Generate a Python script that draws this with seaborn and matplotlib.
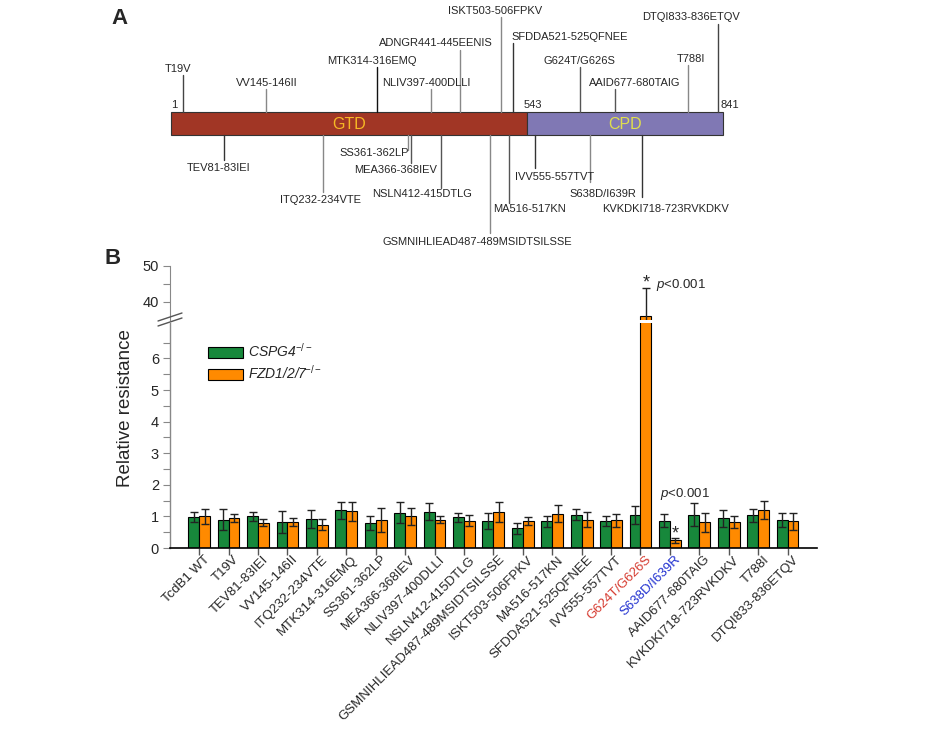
import numpy as np
import pandas as pd
import matplotlib
matplotlib.use("Agg")
import matplotlib.pyplot as plt
from matplotlib.patches import Rectangle
from matplotlib.lines import Line2D
from matplotlib.container import BarContainer
from matplotlib.transforms import ScaledTranslation
import seaborn as sns

# ---------------- data ----------------
# Panel A: domain map
domain_names = ["GTD", "CPD"]
domain_start = [1, 543]
domain_end = [543, 841]
top_labels = ["T19V", "VV145-146II", "MTK314-316EMQ", "NLIV397-400DLLI",
              "ADNGR441-445EENIS", "ISKT503-506FPKV", "SFDDA521-525QFNEE",
              "G624T/G626S", "AAID677-680TAIG", "T788I", "DTQI833-836ETQV"]
top_pos = [19, 145, 314, 397, 441, 503, 521, 624, 677, 788, 833]
bottom_labels = ["TEV81-83IEI", "ITQ232-234VTE", "SS361-362LP", "MEA366-368IEV",
                 "NSLN412-415DTLG", "GSMNIHLIEAD487-489MSIDTSILSSE", "MA516-517KN",
                 "IVV555-557TVT", "S638D/I639R", "KVKDKI718-723RVKDKV"]
bottom_pos = [81, 232, 361, 366, 412, 487, 516, 555, 638, 718]

# Panel B: relative resistance
mutants = ["TcdB1 WT", "T19V", "TEV81-83IEI", "VV145-146II", "ITQ232-234VTE",
           "MTK314-316EMQ", "SS361-362LP", "MEA366-368IEV", "NLIV397-400DLLI",
           "NSLN412-415DTLG", "GSMNIHLIEAD487-489MSIDTSILSSE", "ISKT503-506FPKV",
           "MA516-517KN", "SFDDA521-525QFNEE", "IVV555-557TVT", "G624T/G626S",
           "S638D/I639R", "AAID677-680TAIG", "KVKDKI718-723RVKDKV", "T788I",
           "DTQI833-836ETQV"]
cspg4_mean = [0.99, 0.90, 1.00, 0.82, 0.91, 1.19, 0.79, 1.12, 1.15, 0.97, 0.85,
              0.62, 0.84, 1.05, 0.85, 1.04, 0.87, 1.06, 0.94, 1.03, 0.90]
cspg4_err = [0.16, 0.32, 0.13, 0.36, 0.29, 0.28, 0.21, 0.33, 0.26, 0.15, 0.26,
             0.18, 0.17, 0.17, 0.16, 0.28, 0.21, 0.37, 0.27, 0.20, 0.22]
fzd_mean = [1.00, 0.96, 0.80, 0.82, 0.74, 1.16, 0.89, 1.00, 0.90, 0.86, 1.13,
            0.86, 1.09, 0.89, 0.88, 36.0, 0.24, 0.81, 0.81, 1.20, 0.85]
fzd_err = [0.24, 0.13, 0.11, 0.12, 0.17, 0.29, 0.37, 0.27, 0.12, 0.17, 0.31,
           0.13, 0.26, 0.24, 0.20, 8.0, 0.08, 0.29, 0.19, 0.28, 0.27]
series_names = ["CSPG4", "FZD1/2/7"]

# ---------------- style ----------------
sns.set_style("white")
plt.rcParams["font.family"] = ["Liberation Sans", "DejaVu Sans"]
plt.rcParams["mathtext.fontset"] = "custom"
plt.rcParams["mathtext.rm"] = "Liberation Sans"
plt.rcParams["mathtext.it"] = "Liberation Sans:italic"

GREEN = "#17883b"
ORANGE = "#ff8a00"
W, H = 948, 729
fig = plt.figure(figsize=(W / 100, H / 100), dpi=100)

# ---------------- Panel A ----------------
topH = 255
axA = fig.add_axes([0, 1 - topH / H, 1, topH / H])
px0, r0, scale = 171, 1, 840 / 552
axA.set_xlim(r0 - px0 * scale, r0 + (W - px0) * scale)
axA.set_ylim(topH, 0)
axA.axis("off")

bar_top, bar_bot = 112, 135
dom_colors = ["#a13625", "#8078b4"]
dom_text_colors = ["#f7b824", "#e0df4c"]
for name, s, e, c, tc in zip(domain_names, domain_start, domain_end, dom_colors, dom_text_colors):
    axA.add_patch(Rectangle((s, bar_top), e - s, bar_bot - bar_top, facecolor=c,
                            edgecolor="#333333", linewidth=0.8))
    axA.text((s + e) / 2, (bar_top + bar_bot) / 2 + 1, name, color=tc, fontsize=11.5,
             ha="center", va="center")

fs_a = 8
axA.text(1, bar_top - 2, "1", fontsize=fs_a, ha="left", va="bottom")
axA.text(543 - 5, bar_top - 2, "543", fontsize=fs_a, ha="left", va="bottom")
axA.text(841 - 4, bar_top - 2, "841", fontsize=fs_a, ha="left", va="bottom")

top_stem_y = [75, 89, 67, 89, 50, 17, 43, 67, 89, 65, 24]
top_text_r = [12, 146, 307, 389, 404, 494, 608, 623, 706, 792, 792]
top_col = ["#444", "#888", "#111", "#888", "#888", "#888", "#333", "#555", "#555", "#888", "#444"]
for lab, r, sy, tr, col in zip(top_labels, top_pos, top_stem_y, top_text_r, top_col):
    axA.plot([r, r], [bar_top, sy], color=col, lw=1)
    axA.text(tr, sy - 1.5, lab, fontsize=fs_a, ha="center", va="bottom")

bot_stem_y = [160, 192, 150, 163, 188, 233, 203, 168, 182, 197]
bot_text_y = [163, 195, 148, 165, 189, 237, 204, 172, 189, 204]
bot_text_r = [73, 228, 310, 342, 383, 467, 546, 584, 659, 754]
bot_col = ["#333", "#888", "#888", "#555", "#555", "#888", "#555", "#333", "#888", "#333"]
for lab, r, sy, ty, tr, col in zip(bottom_labels, bottom_pos, bot_stem_y, bot_text_y, bot_text_r, bot_col):
    axA.plot([r, r], [bar_bot, sy], color=col, lw=1)
    axA.text(tr, ty, lab, fontsize=fs_a, ha="center", va="top")

fig.text(111 / W, 1 - 18 / H, "A", fontsize=16, fontweight="bold", ha="left", va="center")
fig.text(104 / W, 1 - 259 / H, "B", fontsize=16, fontweight="bold", ha="left", va="center")

# ---------------- Panel B ----------------
df = pd.DataFrame({
    "mutant": mutants * 2,
    "line": [series_names[0]] * len(mutants) + [series_names[1]] * len(mutants),
    "value": cspg4_mean + fzd_mean,
})

ax_left, ax_right = 170, 817
lo_bot, lo_top = 548, 323
up_bot, up_top = 320, 266
ax_lo = fig.add_axes([ax_left / W, 1 - lo_bot / H, (ax_right - ax_left) / W, (lo_bot - lo_top) / H])
ax_up = fig.add_axes([ax_left / W, 1 - up_bot / H, (ax_right - ax_left) / W, (up_bot - up_top) / H])

errs = [cspg4_err, fzd_err]
means = [cspg4_mean, fzd_mean]
bar_conts = {}
for ax, show_leg in [(ax_lo, True), (ax_up, False)]:
    sns.barplot(data=df, x="mutant", y="value", hue="line", order=mutants,
                hue_order=series_names, palette=[GREEN, ORANGE], width=0.74,
                edgecolor="black", linewidth=0.8, errorbar=None, ax=ax,
                legend=show_leg, saturation=1)
    conts = [c for c in ax.containers if isinstance(c, BarContainer)]
    bar_conts[ax] = conts
    for k, cont in enumerate(conts):
        xs = [b.get_x() + b.get_width() / 2 for b in cont]
        ax.errorbar(xs, means[k], yerr=errs[k], fmt="none", ecolor="#222222",
                    elinewidth=1, capsize=2.6, capthick=1, zorder=5)
    ax.set_xlim(-0.99, 21.0)
    ax.set_xlabel("")
    ax.set_ylabel("")

# lower axis
ax_lo.set_ylim(0, (lo_bot - lo_top) / 31.6)
ax_lo.set_yticks(range(0, 7))
ax_lo.set_yticks(np.arange(0.5, 7, 1.0), minor=True)
ax_lo.tick_params(axis="y", which="both", direction="out", length=5, width=0.8,
                  color="#888888", labelsize=10.5, left=True, pad=3)
ax_lo.tick_params(axis="x", direction="out", length=5, width=1, color="#555555",
                  bottom=True, pad=2)
for s in ["top", "right"]:
    ax_lo.spines[s].set_visible(False)
ax_lo.spines["left"].set_color("#888888")
ax_lo.spines["bottom"].set_color("black")
ax_lo.spines["left"].set_linewidth(1)
ax_lo.spines["bottom"].set_linewidth(1.2)

ax_lo.set_xticks(range(len(mutants)))
ax_lo.set_xticklabels(mutants, rotation=45, ha="right", va="center",
                      rotation_mode="anchor", fontsize=9.5)
offset = ScaledTranslation(6.5 / 72, 0, fig.dpi_scale_trans)
for lab in ax_lo.get_xticklabels():
    lab.set_transform(lab.get_transform() + offset)
    if lab.get_text() == "G624T/G626S":
        lab.set_color("#d63a2f")
    elif lab.get_text() == "S638D/I639R":
        lab.set_color("#1f2fd0")

# upper axis
ax_up.set_ylim(35, 50)
ax_up.set_yticks([40, 50])
ax_up.set_yticks([45], minor=True)
ax_up.tick_params(axis="y", which="both", direction="out", length=5, width=0.8,
                  color="#888888", labelsize=10.5, left=True, pad=3)
ax_up.set_xticks([])
for s in ["top", "right", "bottom"]:
    ax_up.spines[s].set_visible(False)
ax_up.spines["left"].set_color("#888888")
ax_up.patch.set_alpha(0)

# break marks
for dy in (0, 5):
    fig.add_artist(Line2D([158 / W, 182 / W], [1 - (326 - dy) / H, 1 - (318 - dy) / H],
                          color="#555555", lw=1))

fig.text(125 / W, 1 - 408 / H, "Relative resistance", rotation=90, fontsize=13.5,
         ha="center", va="center")

# legend
handles, _ = ax_lo.get_legend_handles_labels()
leg = ax_lo.legend(handles, [r"CSPG4$^{-/-}$", r"FZD1/2/7$^{-/-}$"],
                   loc="upper left", bbox_to_anchor=((208 - ax_left) / (ax_right - ax_left),
                                                      (lo_bot - 342) / (lo_bot - lo_top)),
                   frameon=False, fontsize=10, handlelength=2.5, handleheight=0.85,
                   handletextpad=0.4, labelspacing=0.3, borderpad=0, borderaxespad=0)
for t in leg.get_texts():
    t.set_fontstyle("italic")

# significance annotations
cu = bar_conts[ax_up]
x_g624 = cu[1][15].get_x() + cu[1][15].get_width() / 2
ax_up.text(x_g624, 45.2, "*", fontsize=13, ha="center", va="center")
ax_up.text(x_g624 + 0.33, 44.8, r"$\mathit{p}$<0.001", fontsize=9.5, ha="left", va="center")
cl = bar_conts[ax_lo]
x_s638 = cl[1][16].get_x() + cl[1][16].get_width() / 2
ax_lo.text(x_s638, 0.45, "*", fontsize=13, ha="center", va="center")
ax_lo.text(16.5, 1.72, r"$\mathit{p}$<0.001", fontsize=9.5, ha="center", va="center")

fig.savefig("out.png", dpi=100)
